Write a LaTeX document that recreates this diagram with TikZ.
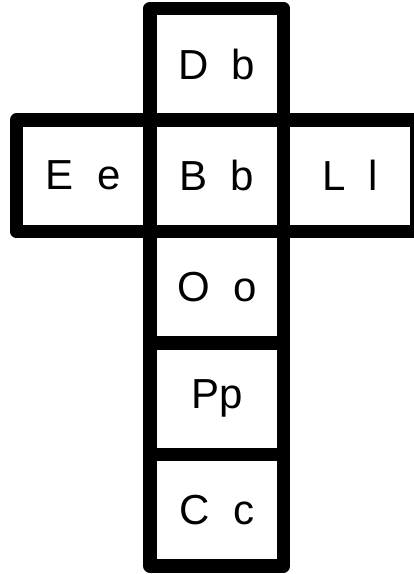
\documentclass[tikz,border=0pt]{standalone}
\usepackage{fontspec}
\setmainfont[WordSpace=2]{Liberation Sans}
\usetikzlibrary{positioning}
\tikzset{face/.style={draw, line width=13.5pt, line join=round, minimum width=133.5pt, minimum height=111.5pt,
  outer sep=0pt, inner sep=0pt, font=\fontsize{42}{48}\selectfont}}
\begin{document}
\begin{tikzpicture}[x=1pt, y=-1pt, node distance=0pt]
\useasboundingbox (0,0) rectangle (414,574);
\node[face](bb) at (216.75,175.75){B b};
\node[face, above=of bb](db){D b};
\node[face, left=of bb](ee){E e};
\node[face, right=of bb](ll){L l};
\node[face, below=of bb](oo){O o};
\node[face, below=of oo](pp){Pp};
\node[face, below=of pp](cc){C c};
\end{tikzpicture}
\end{document}
